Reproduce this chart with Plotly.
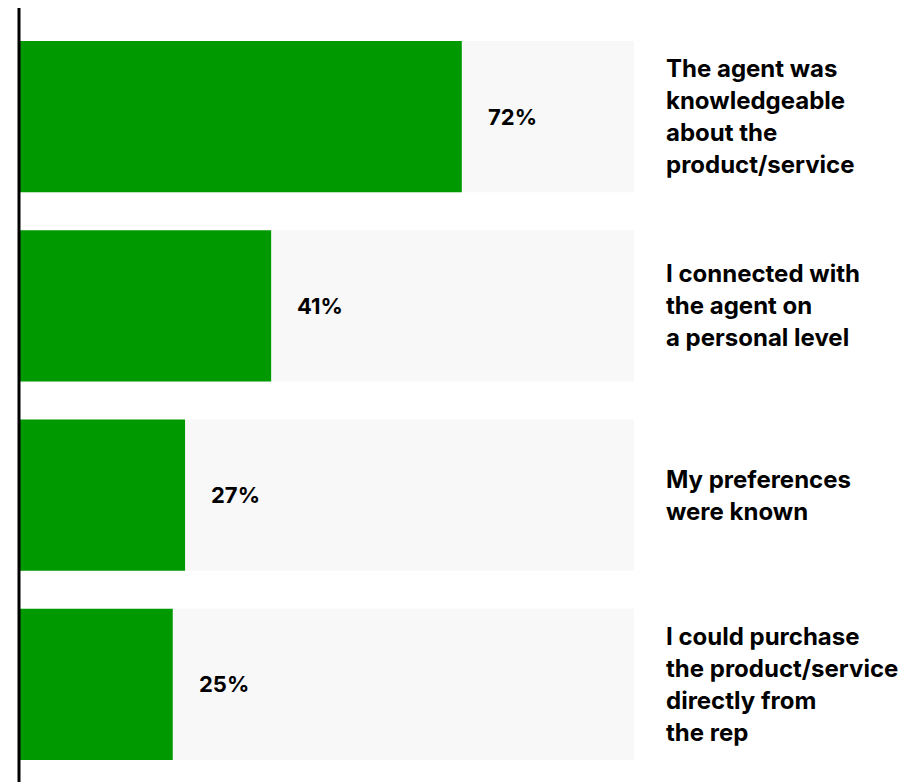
import plotly.graph_objects as go

# Survey results: share of respondents citing each reason
categories = [
    "The agent was knowledgeable about the product/service",
    "I connected with the agent on a personal level",
    "My preferences were known",
    "I could purchase the product/service directly from the rep",
]
category_lines = [
    ["The agent was", "knowledgeable", "about the", "product/service"],
    ["I connected with", "the agent on", "a personal level"],
    ["My preferences", "were known"],
    ["I could purchase", "the product/service", "directly from", "the rep"],
]
values = [72, 41, 27, 25]
full_scale = [100, 100, 100, 100]

GREEN = "#009900"
TRACK = "#f8f8f8"
FONT = "Inter"
LINE_STEP = 32

fig = go.Figure()

# light track behind each bar, running to 100%
fig.add_trace(go.Bar(
    y=categories, x=full_scale, orientation="h",
    marker=dict(color=TRACK, line=dict(width=0)),
    hoverinfo="skip", showlegend=False,
))
# measured share
fig.add_trace(go.Bar(
    y=categories, x=values, orientation="h",
    marker=dict(color=GREEN, line=dict(width=0)),
    showlegend=False,
))

annotations = []
# percentage labels just past the end of each green bar
for cat, v in zip(categories, values):
    annotations.append(dict(
        x=v, y=cat, xref="x", yref="y", text=f"{v}%",
        showarrow=False, xanchor="left", yanchor="middle", xshift=24,
        font=dict(family=FONT, size=22, color="black", weight=700),
    ))

# category labels to the right of the tracks, one annotation per line
for cat, lines in zip(categories, category_lines):
    n = len(lines)
    for i, line in enumerate(lines):
        annotations.append(dict(
            x=1, y=cat, xref="paper", yref="y", text=line,
            showarrow=False, xanchor="left", yanchor="middle", xshift=30,
            yshift=-(i - (n - 1) / 2) * LINE_STEP,
            font=dict(family=FONT, size=24, color="black", weight=700),
        ))

fig.update_layout(
    width=914, height=782,
    margin=dict(l=19, r=280, t=22, b=3),
    paper_bgcolor="white", plot_bgcolor="white",
    barmode="overlay", bargap=0.2,
    xaxis=dict(range=[0, 100], visible=False, fixedrange=True),
    yaxis=dict(autorange="reversed", visible=False, fixedrange=True),
    annotations=annotations,
    shapes=[dict(
        type="line", xref="paper", yref="paper",
        x0=0, x1=0, y0=-0.01, y1=1.0185,
        line=dict(color="black", width=3),
    )],
)

fig.write_html("out.html")
